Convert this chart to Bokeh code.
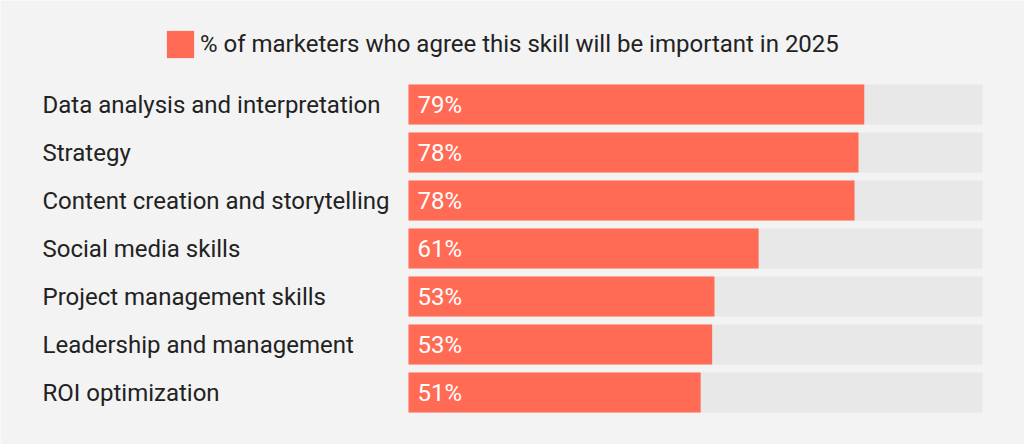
from bokeh.plotting import figure
from bokeh.models import Range1d, ColumnDataSource, Legend, LegendItem
from bokeh.core.properties import value
from bokeh.embed import file_html
from bokeh.resources import INLINE

skills = ["Data analysis and interpretation", "Strategy", "Content creation and storytelling",
          "Social media skills", "Project management skills", "Leadership and management",
          "ROI optimization"]
pct = [79.4, 78.4, 77.7, 61.0, 53.3, 52.9, 50.9]
pct_labels = ["79%", "78%", "78%", "61%", "53%", "53%", "51%"]
full = [100] * len(skills)
legend_label = "% of marketers who agree this skill will be important in 2025"

W, H = 1024, 444
BAR_LEFT, BAR_RIGHT = 408, 982
PX_PER = (BAR_RIGHT - BAR_LEFT) / 100.0
FIRST_CENTER, PITCH, BAR_PX = 104, 48, 40
LABEL_X_PX = 42

x_start = -BAR_LEFT / PX_PER
x_end = (W - BAR_LEFT) / PX_PER
y_top = -FIRST_CENTER / PITCH
y_bottom = (H - FIRST_CENTER) / PITCH

idx = list(range(len(skills)))
src = ColumnDataSource(dict(y=idx, pct=pct, lab=pct_labels, full=full, skill=skills,
                            lx=[(LABEL_X_PX - BAR_LEFT) / PX_PER] * len(skills),
                            zero=[0] * len(skills)))

p = figure(width=W, height=H, output_backend="svg", toolbar_location=None,
           x_range=Range1d(x_start, x_end), y_range=Range1d(y_bottom, y_top),
           min_border=0, min_border_left=0, min_border_right=0, min_border_top=0, min_border_bottom=0)
p.background_fill_color = "#f3f3f3"
p.border_fill_color = "#f3f3f3"
p.outline_line_color = None
p.axis.visible = False
p.grid.visible = False

h = BAR_PX / PITCH
p.hbar(y="y", left=0, right="full", height=h, source=src, fill_color="#e8e8e8", line_color=None)
r = p.hbar(y="y", left=0, right="pct", height=h, source=src, fill_color="#ff6b55", line_color=None)

p.text(x="zero", y="y", text="lab", source=src, x_offset=9, text_baseline="middle",
       text_align="left", text_color="white", text_font=value("Roboto"), text_font_size="24px")
p.text(x="lx", y="y", text="skill", source=src, text_baseline="middle",
       text_align="left", text_color="#222222", text_font=value("Roboto"), text_font_size="24px")

legend = Legend(items=[LegendItem(label=legend_label, renderers=[r])],
                location=(163, H - 61), orientation="horizontal",
                glyph_width=34, glyph_height=34, label_standoff=3, padding=0, margin=0,
                label_text_font="Roboto", label_text_font_size="24px", label_text_color="#222222",
                background_fill_alpha=0, border_line_alpha=0)
p.add_layout(legend, "center")

open("out.html", "w").write(file_html(p, INLINE))
